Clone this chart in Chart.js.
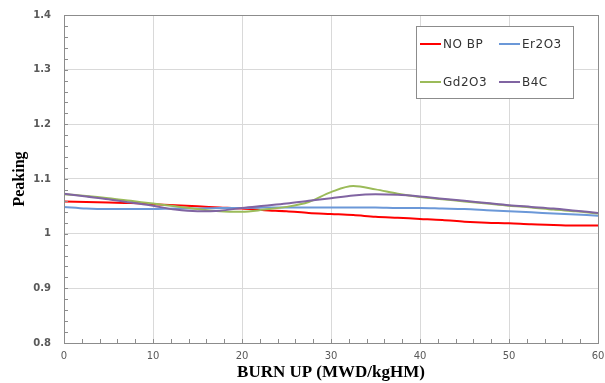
<!DOCTYPE html>
<html>
<head>
<meta charset="utf-8">
<script src="https://cdn.jsdelivr.net/npm/chart.js@4.4.0/dist/chart.umd.min.js"></script>
<style>
  html, body { margin: 0; padding: 0; background: #ffffff; }
  #wrap { width: 605px; height: 383px; }
</style>
</head>
<body>
<div id="wrap"><canvas id="chart" width="605" height="383"></canvas></div>
<script>
// Burn-up steps (MWD/kgHM)
const burnup = [0, 2.5, 5, 7.5, 10, 12.5, 15, 17.5, 20, 22.5, 25, 27.5, 30,
                32.5, 35, 37.5, 40, 42.5, 45, 47.5, 50, 52.5, 55, 57.5, 60];

// Peaking factor for each burnable-poison option
const noBP  = [1.059, 1.058, 1.057, 1.056, 1.054, 1.052, 1.050, 1.048, 1.046, 1.043, 1.041, 1.038, 1.036,
               1.034, 1.031, 1.029, 1.027, 1.025, 1.022, 1.020, 1.019, 1.017, 1.016, 1.015, 1.015];
const er2o3 = [1.049, 1.046, 1.045, 1.045, 1.045, 1.046, 1.046, 1.047, 1.047, 1.048, 1.048, 1.048, 1.048,
               1.048, 1.048, 1.047, 1.047, 1.046, 1.045, 1.043, 1.041, 1.039, 1.037, 1.035, 1.033];
const gd2o3 = [1.072, 1.069, 1.065, 1.060, 1.055, 1.050, 1.045, 1.041, 1.040, 1.044, 1.049, 1.058, 1.076,
               1.087, 1.081, 1.073, 1.067, 1.063, 1.059, 1.055, 1.051, 1.048, 1.044, 1.041, 1.037];
const b4c   = [1.073, 1.068, 1.063, 1.057, 1.051, 1.044, 1.041, 1.042, 1.047, 1.051, 1.055, 1.060, 1.065,
               1.070, 1.072, 1.071, 1.068, 1.064, 1.060, 1.056, 1.052, 1.049, 1.046, 1.042, 1.038];

const seriesNames  = ['NO BP', 'Er2O3', 'Gd2O3', 'B4C'];
const seriesColors = ['#ff0000', '#6b98d8', '#9bbb59', '#8064a2'];
const seriesValues = [noBP, er2o3, gd2o3, b4c];

const toPoints = vals => vals.map((v, i) => ({ x: burnup[i], y: v }));

// Small inward tick marks between the major gridlines, plus the plot frame
const frameAndMinorTicks = {
  id: 'frameAndMinorTicks',
  afterDatasetsDraw(chart) {
    const { ctx, chartArea: a, scales } = chart;
    ctx.save();
    ctx.strokeStyle = '#8c8c8c';
    ctx.lineWidth = 1;
    ctx.beginPath();
    for (let v = 0.8; v <= 1.4001; v += 0.02) {
      const y = Math.round(scales.y.getPixelForValue(v)) + 0.5;
      ctx.moveTo(a.left, y); ctx.lineTo(a.left + 4, y);
    }
    for (let v = 0; v <= 60.001; v += 2) {
      const x = Math.round(scales.x.getPixelForValue(v)) + 0.5;
      ctx.moveTo(x, a.bottom); ctx.lineTo(x, a.bottom - 4);
    }
    ctx.stroke();
    ctx.strokeRect(Math.round(a.left) + 0.5, Math.round(a.top) + 0.5,
                   Math.round(a.right - a.left), Math.round(a.bottom - a.top));
    ctx.restore();
  }
};

// Boxed two-column legend inside the plot
const boxedLegend = {
  id: 'boxedLegend',
  afterDraw(chart) {
    const { ctx, chartArea: a } = chart;
    const bx = a.right - 182, by = a.top + 11, bw = 157, bh = 72;
    ctx.save();
    ctx.fillStyle = '#ffffff';
    ctx.fillRect(bx, by, bw, bh);
    ctx.strokeStyle = '#8c8c8c';
    ctx.lineWidth = 1;
    ctx.strokeRect(bx + 0.5, by + 0.5, bw, bh);
    ctx.font = '12px "DejaVu Sans"';
    ctx.letterSpacing = '0.5px';
    ctx.textBaseline = 'middle';
    ctx.textAlign = 'left';
    const cols = [bx + 4, bx + 83];
    const rows = [by + 18, by + 56];
    chart.data.datasets.forEach((ds, i) => {
      const x = cols[i % 2], y = rows[Math.floor(i / 2)];
      ctx.strokeStyle = ds.borderColor;
      ctx.lineWidth = 2;
      ctx.beginPath();
      ctx.moveTo(x, y); ctx.lineTo(x + 21, y);
      ctx.stroke();
      ctx.fillStyle = '#333333';
      ctx.fillText(ds.label, x + 23, y + 0.5);
    });
    ctx.restore();
  }
};

new Chart(document.getElementById('chart'), {
  type: 'line',
  data: {
    datasets: seriesNames.map((name, i) => ({
      label: name,
      data: toPoints(seriesValues[i]),
      borderColor: seriesColors[i],
      backgroundColor: seriesColors[i],
      borderWidth: 2,
      pointRadius: 0,
      cubicInterpolationMode: 'monotone',
      fill: false,
      order: seriesNames.length - i
    }))
  },
  options: {
    responsive: false,
    animation: false,
    layout: { padding: { top: 15, right: 7, left: 0, bottom: 0 } },
    plugins: {
      legend: { display: false },
      tooltip: { enabled: false }
    },
    scales: {
      x: {
        type: 'linear',
        min: 0, max: 60,
        afterFit(scale) {
          scale.height = 40;
          scale.paddingLeft = 0;
          scale.paddingRight = 0;
        },
        ticks: {
          stepSize: 10,
          color: '#595959',
          font: { family: '"DejaVu Sans"', size: 10 },
          padding: 7,
          maxRotation: 0
        },
        grid: { color: '#d9d9d9', drawTicks: false },
        border: { color: '#8c8c8c' },
        title: {
          display: true,
          text: 'BURN UP (MWD/kgHM)',
          color: '#000000',
          font: { family: '"Liberation Serif"', size: 17, weight: 'bold' },
          padding: { top: 0, bottom: 0 }
        }
      },
      y: {
        min: 0.8, max: 1.4,
        afterFit(scale) {
          scale.width = 64;
          scale.paddingTop = 0;
          scale.paddingBottom = 0;
        },
        ticks: {
          stepSize: 0.1,
          color: '#595959',
          font: { family: '"DejaVu Sans"', size: 10, weight: 'bold' },
          padding: 13,
          callback: v => String(Number(v.toFixed(1)))
        },
        grid: { color: '#d9d9d9', drawTicks: false },
        border: { color: '#8c8c8c' },
        title: {
          display: true,
          text: 'Peaking',
          color: '#000000',
          font: { family: '"Liberation Serif"', size: 16, weight: 'bold' },
          padding: { top: 10, bottom: 0 }
        }
      }
    }
  },
  plugins: [frameAndMinorTicks, boxedLegend]
});
</script>
</body>
</html>
